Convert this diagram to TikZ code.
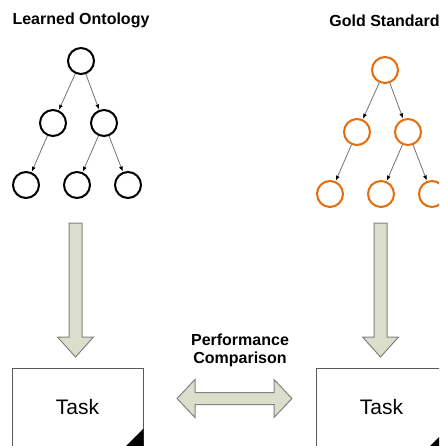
\documentclass[tikz,border=0pt]{standalone}
\usepackage{fontspec}
\setmainfont{Liberation Sans}
\usetikzlibrary{arrows.meta}

\definecolor{goldorange}{RGB}{228,108,10}
\definecolor{flowfill}{RGB}{218,222,202}
\definecolor{flowline}{RGB}{130,130,130}

\begin{document}
\begin{tikzpicture}[
    x=1pt, y=-1pt,
    concept/.style={circle, draw=#1, line width=2pt, minimum size=26pt, inner sep=0pt},
    link/.style={draw=black!55, line width=.8pt, shorten >=.5pt,
      -{Latex[length=5pt, width=4pt, color=black]}},
    flow/.style={draw=flowline, fill=flowfill, line width=1pt, line join=miter},
    task/.style={draw=black!65, line width=1pt, minimum width=131pt, minimum height=82pt,
      text depth=4pt, font=\fontsize{21}{25}\selectfont},
    title/.style={font=\fontsize{16}{18}\selectfont\bfseries, align=center, inner sep=0pt}]
  \clip (0,0) rectangle (439,446);

  % the two trees
  \foreach \t/\dx/\dy/\col in {lo/0/0/black, gs/304/9/goldorange} {
    \begin{scope}[shift={(\dx,\dy)}]
      \node[concept=\col] (\t-r) at (81,61) {};
      \node[concept=\col] (\t-a) at (53,123) {};
      \node[concept=\col] (\t-b) at (104,123) {};
      \node[concept=\col] (\t-c) at (26,185) {};
      \node[concept=\col] (\t-d) at (77,185) {};
      \node[concept=\col] (\t-e) at (128,185) {};
    \end{scope}
    \foreach \a/\b in {r/a, r/b, a/c, b/d, b/e}
      \draw[link] (\t-\a) -- (\t-\b);
  }

  \node[title, anchor=base] (lo-title) at (81,25) {Learned Ontology};
  \node[title, anchor=base] (gs-title) at (384.5,27) {Gold Standard};

  % tasks
  \node[task] (lo-task) at (77.5,409) {Task};
  \node[task] (gs-task) at (381.5,409) {Task};
  \foreach \t in {lo, gs}
    \fill (\t-task.south east) -- ++(-22,0) -- ++(22,-22) -- cycle;

  % block arrows
  \foreach \t/\x in {lo/75.5, gs/380.5}
    \draw[flow] (\x-6.5,223) -- (\x-6.5,337) -- (\x-18,337) -- (\x,357)
      -- (\x+18,337) -- (\x+6.5,337) -- (\x+6.5,223) -- cycle;

  \draw[flow] (177,398.5) -- (195,379.5) -- (195,392.5) -- (274,392.5) -- (274,379.5)
    -- (292,398.5) -- (274,417.5) -- (274,404.5) -- (195,404.5) -- (195,417.5) -- cycle;
  \node[title] (cmp-label) at (240,350) {Performance\\Comparison};
\end{tikzpicture}
\end{document}
